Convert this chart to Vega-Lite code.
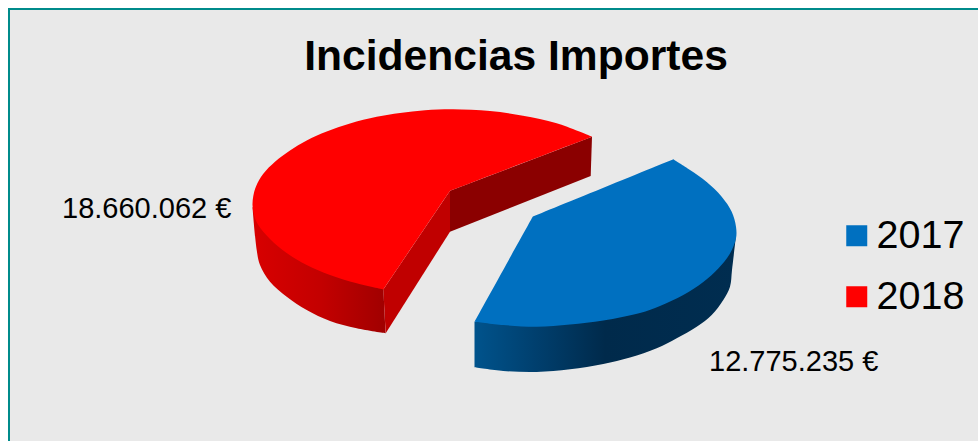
{
"$schema":"https://vega.github.io/schema/vega-lite/v6.json",
"width":970,"height":433,
"autosize":{"type":"none"},
"padding":{"left":8,"top":8,"right":0,"bottom":0},
"background":"white",
"config":{"view":{"fill":"#E9E9E9","stroke":null},"font":"Liberation Sans"},
"title":{"text":"Incidencias Importes","font":"Liberation Sans","fontSize":42.6,"fontWeight":"bold","color":"black","anchor":"middle","baseline":"alphabetic","offset":0,"dx":23,"dy":106},
"datasets":{
"labels":[
{"year":"2018","value":18660062,"label":"18.660.062 €","x":62,"y":218},
{"year":"2017","value":12775235,"label":"12.775.235 €","x":709,"y":371}
],
"shape":[
{"year":"2018","part":"cara","i":1,"x":592,"y":136.7},{"year":"2018","part":"cara","i":2,"x":592,"y":136.7},{"year":"2018","part":"cara","i":3,"x":556.7,"y":123.3},{"year":"2018","part":"cara","i":4,"x":523,"y":115.7},{"year":"2018","part":"cara","i":5,"x":490,"y":111},{"year":"2018","part":"cara","i":6,"x":453,"y":109.3},{"year":"2018","part":"cara","i":7,"x":425,"y":110.3},{"year":"2018","part":"cara","i":8,"x":400,"y":113},{"year":"2018","part":"cara","i":9,"x":376.7,"y":116.8},{"year":"2018","part":"cara","i":10,"x":350,"y":123.5},{"year":"2018","part":"cara","i":11,"x":326.7,"y":131.5},{"year":"2018","part":"cara","i":12,"x":306.7,"y":140.5},{"year":"2018","part":"cara","i":13,"x":290,"y":150.5},{"year":"2018","part":"cara","i":14,"x":275,"y":161.7},{"year":"2018","part":"cara","i":15,"x":263.3,"y":173.8},{"year":"2018","part":"cara","i":16,"x":256,"y":186.5},{"year":"2018","part":"cara","i":17,"x":253.3,"y":196},{"year":"2018","part":"cara","i":18,"x":252.5,"y":205},{"year":"2018","part":"cara","i":19,"x":254,"y":215},{"year":"2018","part":"cara","i":20,"x":258.3,"y":225},{"year":"2018","part":"cara","i":21,"x":270,"y":239},{"year":"2018","part":"cara","i":22,"x":286.7,"y":253},{"year":"2018","part":"cara","i":23,"x":306.7,"y":265},{"year":"2018","part":"cara","i":24,"x":330,"y":275},{"year":"2018","part":"cara","i":25,"x":356.7,"y":283.3},{"year":"2018","part":"cara","i":26,"x":383.3,"y":289.5},{"year":"2018","part":"cara","i":27,"x":383.3,"y":289.5},{"year":"2018","part":"cara","i":28,"x":450,"y":190.7},{"year":"2018","part":"cara","i":29,"x":450,"y":190.7},{"year":"2018","part":"cara","i":30,"x":592,"y":136.7},{"year":"2018","part":"cara","i":31,"x":592,"y":136.7},
{"year":"2018","part":"lateral","i":1,"x":252.5,"y":207},{"year":"2018","part":"lateral","i":2,"x":252.5,"y":207},{"year":"2018","part":"lateral","i":3,"x":256.7,"y":250},{"year":"2018","part":"lateral","i":4,"x":260,"y":265},{"year":"2018","part":"lateral","i":5,"x":270,"y":281.7},{"year":"2018","part":"lateral","i":6,"x":286.7,"y":296.7},{"year":"2018","part":"lateral","i":7,"x":306.7,"y":310},{"year":"2018","part":"lateral","i":8,"x":330,"y":321},{"year":"2018","part":"lateral","i":9,"x":356.7,"y":328.3},{"year":"2018","part":"lateral","i":10,"x":385.7,"y":333.3},{"year":"2018","part":"lateral","i":11,"x":385.7,"y":333.3},{"year":"2018","part":"lateral","i":12,"x":383.3,"y":287},{"year":"2018","part":"lateral","i":13,"x":383.3,"y":287},{"year":"2018","part":"lateral","i":14,"x":300,"y":250},{"year":"2018","part":"lateral","i":15,"x":252.5,"y":207},{"year":"2018","part":"lateral","i":16,"x":252.5,"y":207},
{"year":"2018","part":"corte1","i":1,"x":383.3,"y":289.5},{"year":"2018","part":"corte1","i":2,"x":385.7,"y":333.3},{"year":"2018","part":"corte1","i":3,"x":450,"y":231.7},{"year":"2018","part":"corte1","i":4,"x":450,"y":190.7},{"year":"2018","part":"corte1","i":5,"x":383.3,"y":289.5},
{"year":"2018","part":"corte2","i":1,"x":450,"y":190.7},{"year":"2018","part":"corte2","i":2,"x":592,"y":136.7},{"year":"2018","part":"corte2","i":3,"x":590.7,"y":176},{"year":"2018","part":"corte2","i":4,"x":450,"y":231.7},{"year":"2018","part":"corte2","i":5,"x":450,"y":190.7},
{"year":"2017","part":"lateral","i":1,"x":474.5,"y":321.7},{"year":"2017","part":"lateral","i":2,"x":474.5,"y":321.7},{"year":"2017","part":"lateral","i":3,"x":474.5,"y":367.3},{"year":"2017","part":"lateral","i":4,"x":474.5,"y":367.3},{"year":"2017","part":"lateral","i":5,"x":503.3,"y":371},{"year":"2017","part":"lateral","i":6,"x":536.7,"y":372},{"year":"2017","part":"lateral","i":7,"x":570,"y":369.3},{"year":"2017","part":"lateral","i":8,"x":603.3,"y":364},{"year":"2017","part":"lateral","i":9,"x":630,"y":357.5},{"year":"2017","part":"lateral","i":10,"x":656.7,"y":348.3},{"year":"2017","part":"lateral","i":11,"x":676.7,"y":338.3},{"year":"2017","part":"lateral","i":12,"x":696.7,"y":326.7},{"year":"2017","part":"lateral","i":13,"x":711.7,"y":315},{"year":"2017","part":"lateral","i":14,"x":723.3,"y":300},{"year":"2017","part":"lateral","i":15,"x":730,"y":286.7},{"year":"2017","part":"lateral","i":16,"x":732,"y":270},{"year":"2017","part":"lateral","i":17,"x":736,"y":236},{"year":"2017","part":"lateral","i":18,"x":736,"y":236},{"year":"2017","part":"lateral","i":19,"x":640,"y":280},{"year":"2017","part":"lateral","i":20,"x":474.5,"y":321.7},{"year":"2017","part":"lateral","i":21,"x":474.5,"y":321.7},
{"year":"2017","part":"cara","i":1,"x":532.7,"y":216.7},{"year":"2017","part":"cara","i":2,"x":532.7,"y":216.7},{"year":"2017","part":"cara","i":3,"x":673.3,"y":159.3},{"year":"2017","part":"cara","i":4,"x":673.3,"y":159.3},{"year":"2017","part":"cara","i":5,"x":690,"y":170},{"year":"2017","part":"cara","i":6,"x":706.7,"y":182},{"year":"2017","part":"cara","i":7,"x":721.7,"y":196.7},{"year":"2017","part":"cara","i":8,"x":731.7,"y":211.7},{"year":"2017","part":"cara","i":9,"x":736,"y":226.7},{"year":"2017","part":"cara","i":10,"x":736,"y":238.3},{"year":"2017","part":"cara","i":11,"x":730,"y":253.5},{"year":"2017","part":"cara","i":12,"x":718.3,"y":268.5},{"year":"2017","part":"cara","i":13,"x":703.3,"y":282},{"year":"2017","part":"cara","i":14,"x":683.3,"y":295},{"year":"2017","part":"cara","i":15,"x":660,"y":306},{"year":"2017","part":"cara","i":16,"x":640,"y":313},{"year":"2017","part":"cara","i":17,"x":603.3,"y":320.5},{"year":"2017","part":"cara","i":18,"x":570,"y":324.5},{"year":"2017","part":"cara","i":19,"x":536.7,"y":326.7},{"year":"2017","part":"cara","i":20,"x":503.3,"y":325},{"year":"2017","part":"cara","i":21,"x":474.5,"y":321.7},{"year":"2017","part":"cara","i":22,"x":474.5,"y":321.7},{"year":"2017","part":"cara","i":23,"x":532.7,"y":216.7},{"year":"2017","part":"cara","i":24,"x":532.7,"y":216.7}
]
},
"data":{"name":"shape"},
"encoding":{
"x":{"field":"x","type":"quantitative","scale":{"domain":[8,978]},"axis":null},
"y":{"field":"y","type":"quantitative","scale":{"domain":[441,8]},"axis":null},
"order":{"field":"i","type":"quantitative"}
},
"layer":[
{"transform":[{"filter":"datum.year=='2018' && datum.part=='lateral'"}],
"mark":{"type":"line","interpolate":"catmull-rom","strokeWidth":0,"fill":{"gradient":"linear","x1":0,"x2":1,"y1":0,"y2":0,"stops":[{"offset":0,"color":"#D80000"},{"offset":0.5,"color":"#C40000"},{"offset":1,"color":"#A00000"}]}}},
{"transform":[{"filter":"datum.part=='corte2'"}],
"mark":{"type":"line","strokeWidth":0,"fill":"#8B0000"}},
{"transform":[{"filter":"datum.part=='corte1'"}],
"mark":{"type":"line","strokeWidth":0,"fill":"#C00000"}},
{"transform":[{"filter":"datum.year=='2017' && datum.part=='lateral'"}],
"mark":{"type":"line","interpolate":"catmull-rom","strokeWidth":0,"fill":{"gradient":"linear","x1":0,"x2":1,"y1":0,"y2":0,"stops":[{"offset":0,"color":"#00538C"},{"offset":0.25,"color":"#003E6C"},{"offset":0.5,"color":"#002A4B"},{"offset":1,"color":"#002D50"}]}}},
{"transform":[{"filter":"datum.part=='cara'"}],
"mark":{"type":"line","interpolate":"catmull-rom","strokeWidth":0},
"encoding":{"fill":{"field":"year","type":"nominal","scale":{"domain":["2017","2018"],"range":["#0070C0","#FF0000"]},
"legend":{"title":null,"orient":"none","legendX":829,"legendY":208,"symbolType":"square","symbolSize":441,"symbolStrokeWidth":0,"labelFont":"Liberation Sans","labelFontSize":39.5,"labelColor":"black","labelOffset":0,"rowPadding":20,"labelLimit":200}}}},
{"data":{"name":"labels"},
"mark":{"type":"text","font":"Liberation Sans","fontSize":29,"align":"left","baseline":"alphabetic","color":"black"},
"encoding":{"text":{"field":"label"},"order":null}},
{"mark":{"type":"rule","color":"#008B8B","strokeWidth":2},"encoding":{"x":{"datum":9},"y":null,"order":null}},
{"mark":{"type":"rule","color":"#008B8B","strokeWidth":2},"encoding":{"y":{"datum":9},"x":null,"order":null}}
]
}
